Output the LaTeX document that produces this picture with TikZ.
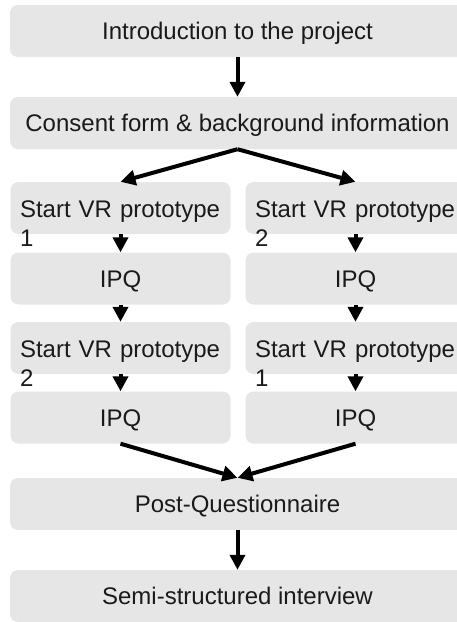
\documentclass[tikz,border=0pt]{standalone}
\usepackage{fontspec}
\setmainfont{Liberation Sans}
\usetikzlibrary{arrows.meta,calc}
\definecolor{boxgray}{HTML}{E6E6E6}
\definecolor{ink}{HTML}{1A1A1A}

\begin{document}
\begin{tikzpicture}[x=1pt,y=-1pt,
  card/.style={fill=boxgray, rounded corners=8pt, inner sep=0pt,
    minimum height=52pt, font=\fontsize{24}{29}\selectfont, text=ink,
    text height=17pt, text depth=0pt},
  wide/.style={card, minimum width=455pt},
  col/.style={card, minimum width=220pt},
  vrtext/.style={anchor=base west, inner sep=0pt, text width=205pt,
    align=left, font=\fontsize{24}{29}\selectfont, text=ink},
  flow/.style={line width=4pt, draw=black,
    -{Triangle[length=15pt,width=15pt]}}
]
\useasboundingbox (0,0) rectangle (457,622);
\clip (0,0) rectangle (457,622);

% full-width steps
\node[wide] (intro)   at (237.5,31)  {Introduction to the project};
\node[wide] (consent) at (237.5,123) {Consent form \& background information};

% left branch
\node[col] (l1) at (120.5,208)   {};
\node[col] (l2) at (120.5,278.5) {IPQ};
\node[col] (l3) at (120.5,348)   {};
\node[col] (l4) at (120.5,417.5) {IPQ};

% right branch
\node[col] (r1) at (355.5,208)   {};
\node[col] (r2) at (355.5,278.5) {IPQ};
\node[col] (r3) at (355.5,348)   {};
\node[col] (r4) at (355.5,417.5) {IPQ};

% prototype captions, wrapping below their boxes
\node[vrtext] (l1t) at ($(l1.west)+(9.5,9.5)$) {Start VR prototype\\1};
\node[vrtext] (l3t) at ($(l3.west)+(9.5,9.5)$) {Start VR prototype\\2};
\node[vrtext] (r1t) at ($(r1.west)+(9.5,9.5)$) {Start VR prototype\\2};
\node[vrtext] (r3t) at ($(r3.west)+(9.5,9.5)$) {Start VR prototype\\1};

% closing steps
\node[wide] (post) at (237.5,504) {Post-Questionnaire};
\node[wide] (semi) at (237.5,596) {Semi-structured interview};

% connectors
\draw[flow] (intro.south) -- (consent.north);
\draw[flow] (consent.south) -- (l1.north);
\draw[flow] (consent.south) -- (r1.north);
\draw[flow] (l1.south) -- (l2.north);
\draw[flow] (l2.south) -- (l3.north);
\draw[flow] (l3.south) -- (l4.north);
\draw[flow] (r1.south) -- (r2.north);
\draw[flow] (r2.south) -- (r3.north);
\draw[flow] (r3.south) -- (r4.north);
\draw[flow] (l4.south) -- (post.north);
\draw[flow] (r4.south) -- (post.north);
\draw[flow] (post.south) -- (semi.north);
\end{tikzpicture}
\end{document}
